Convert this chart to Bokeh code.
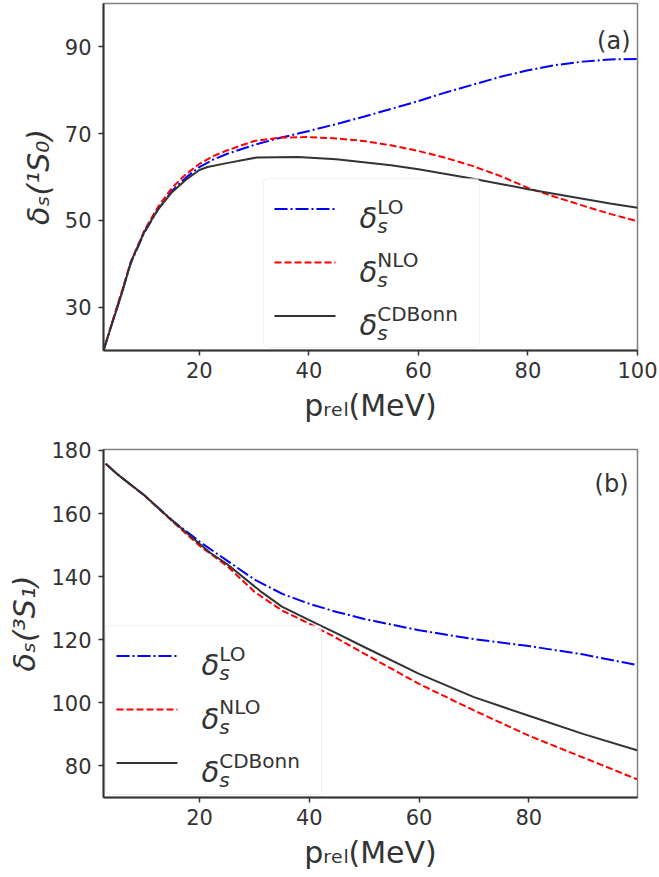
import math
from bokeh.plotting import figure
from bokeh.models import Range1d, Label, BoxAnnotation, Arrow, FixedTicker
from bokeh.layouts import column
from bokeh.embed import file_html
from bokeh.resources import INLINE

# ---------------- data: panel (a) 1S0 ----------------
p_a = [2.5, 4, 5, 6, 7.5, 10, 12.5, 15, 17.5, 20, 22.5, 25, 30, 35, 40, 45, 50, 55, 60, 65,
       70, 75, 80, 85, 90, 95, 100]
lo_a = [20, 26, 30, 34, 40.2, 47.3, 52.6, 56.8, 59.8, 62.3, 64, 65.3, 67.4, 69.1, 70.6, 72.2,
        73.9, 75.7, 77.5, 79.5, 81.3, 83.1, 84.6, 85.8, 86.6, 87.1, 87.2]
nlo_a = [20, 26.2, 30.3, 34.3, 40.5, 47.8, 53.2, 57.5, 60.6, 63, 64.8, 66.1, 68.3, 69.1, 69.2,
         68.9, 68.3, 67.3, 66.0, 64.4, 62.5, 60.2, 57.5, 55.4, 53.4, 51.5, 49.8]
p_a_cdb = [2.5, 4, 5, 6, 7.5, 10, 12.5, 15, 17.5, 20, 21.5, 25, 30.5, 38, 45, 50, 55, 60, 65,
           70, 75, 80, 85, 90, 95, 100]
cdb_a = [20, 26, 29.8, 33.8, 40.4, 47.5, 52.6, 56.5, 59.3, 61.6, 62.3, 63.2, 64.5, 64.6, 64.1,
         63.4, 62.7, 61.8, 60.7, 59.6, 58.4, 57.2, 56.1, 55, 53.9, 52.9]
xticks_a = [20, 40, 60, 80, 100]
yticks_a = [30, 50, 70, 90]

# ---------------- data: panel (b) 3S1 ----------------
p_b = [2.9, 5, 10, 15, 20, 25, 30, 35, 40, 45, 50, 60, 70, 80, 90, 99.7]
lo_b = [175.8, 172.5, 165.7, 157.9, 151.1, 145.1, 139.1, 134.6, 131.4, 128.8, 126.6, 123.0,
        120.2, 118.0, 115.3, 112.0]
nlo_b = [175.8, 172.5, 165.6, 157.6, 149.8, 143.4, 135.2, 129.3, 125.1, 120.5, 115.6, 106.0,
         97.6, 89.6, 82.6, 75.8]
p_b_cdb = [2.9, 5, 10, 15, 20, 22, 25, 31, 35, 40, 45, 50, 60, 70, 80, 90, 99.7]
cdb_b = [175.8, 172.5, 165.7, 157.8, 150.4, 147.5, 144.0, 135.5, 130.5, 126.2, 122.0, 117.7,
         109.2, 101.8, 95.9, 90.1, 85.0]
xticks_b = [20, 40, 60, 80]
yticks_b = [80, 100, 120, 140, 160, 180]

series_names = ["LO", "NLO", "CDBonn"]
xlabel = "pᵣₑₗ(MeV)"
ylabel_a = "δₛ(¹S₀)"
ylabel_b = "δₛ(³S₁)"

# ---------------- style ----------------
TXT = "#333333"
FONT = "DejaVu Sans"
BLUE, RED, DARK = "#0000ff", "#ff0000", "#333333"
DASH_LO, DASH_NLO = "13 3 2 3", "7 3"
W = 659
BL, BR = 103, 22
FW = W - BL - BR

ADV = {"δ": .612, "s": .521, "(": .390, ")": .390, "S": .635, "p": .635, "r": .411, "e": .615,
       "l": .278, "M": .863, "V": .684, "L": .557, "O": .787, "N": .748, "C": .698, "D": .770,
       "B": .686, "o": .612, "n": .634, "a": .613, "b": .635}


def tw(s, size):
    return sum(ADV.get(c, .636) for c in s) * size


def lab(p, x, y, text, size, italic=False, align="left"):
    p.add_layout(Label(x=x, y=y, x_units="screen", y_units="screen", text=text,
                       text_font=FONT, text_font_size=f"{size}px",
                       text_font_style="italic" if italic else "normal",
                       text_color=TXT, text_align=align, text_baseline="alphabetic"))


def make_fig(height, top, bottom, xr, yr, xt, yt, xl, yl):
    p = figure(width=W, height=height, x_range=Range1d(*xr), y_range=Range1d(*yr),
               output_backend="svg", toolbar_location=None,
               min_border_left=BL, min_border_right=BR,
               min_border_top=top, min_border_bottom=bottom)
    p.xgrid.visible = False
    p.ygrid.visible = False
    p.outline_line_color = "#808080"
    p.outline_line_width = 1.5
    p.background_fill_color = "white"
    p.xaxis.ticker = FixedTicker(ticks=xt)
    p.yaxis.ticker = FixedTicker(ticks=yt)
    for ax in (p.xaxis, p.yaxis):
        ax.axis_line_color = TXT
        ax.axis_line_width = 2
        ax.major_tick_line_color = TXT
        ax.major_tick_line_width = 1.5
        ax.major_tick_out = 5
        ax.major_tick_in = 0
        ax.minor_tick_out = 0
        ax.minor_tick_in = 0
        ax.major_label_text_font = FONT
        ax.major_label_text_font_size = "21px"
        ax.major_label_text_color = TXT
        ax.axis_label_text_font = FONT
        ax.axis_label_text_color = TXT
        ax.axis_label_text_font_size = "30px"
    p.xaxis.major_label_standoff = 6
    p.yaxis.major_label_standoff = 7
    p.xaxis.axis_label = xl
    p.yaxis.axis_label = yl
    p.xaxis.axis_label_standoff = 7
    p.yaxis.axis_label_standoff = 6
    p.xaxis.axis_label_text_font_style = "normal"
    p.yaxis.axis_label_text_font_style = "italic"
    return p


def add_curves(p, xs_lo, lo, nlo, xs_c, cdb):
    p.line(xs_lo, lo, line_color=BLUE, line_width=2, line_dash=DASH_LO)
    p.line(xs_lo, nlo, line_color=RED, line_width=2, line_dash=DASH_NLO)
    p.line(xs_c, cdb, line_color=DARK, line_width=2)


def add_legend(p, left, bottom):
    bw, bh = 216, 169
    top = bottom + bh
    p.add_layout(BoxAnnotation(left=left, right=left + bw, bottom=bottom, top=top,
                               left_units="screen", right_units="screen",
                               bottom_units="screen", top_units="screen",
                               fill_color="white", fill_alpha=0.8,
                               line_color="#cccccc", line_width=1, border_radius=4))
    styles = [(BLUE, DASH_LO), (RED, DASH_NLO), (DARK, "solid")]
    offs = [30.5, 84, 137.5]
    F, Fs = 29, 20
    for name, (c, d), o in zip(series_names, styles, offs):
        yr = top - o
        p.add_layout(Arrow(end=None, x_start=left + 11, y_start=yr, x_end=left + 72, y_end=yr,
                           start_units="screen", end_units="screen",
                           line_color=c, line_width=2, line_dash=d))
        xb = left + 96
        yb = yr - 9.4
        lab(p, xb, yb, "δ", F, True)
        xs = xb + tw("δ", F)
        lab(p, xs, yb + 11.7, name, Fs)
        lab(p, xs, yb - 8, "s", Fs, True)


# ---------------- panel (a) ----------------
FH_A = 347
pa = make_fig(3 + FH_A + 76, 3, 76, (2.5, 100), (20, 100), xticks_a, yticks_a,
              xlabel, ylabel_a)
add_curves(pa, p_a, lo_a, nlo_a, p_a_cdb, cdb_a)
add_legend(pa, 160, 3)
lab(pa, FW - 7, FH_A - 37, "(a)", 24, align="right")

# ---------------- panel (b) ----------------
FH_B = 348
pb = make_fig(23 + FH_B + 77, 23, 77, (2.5, 99.8), (70, 180.3), xticks_b, yticks_b,
              xlabel, ylabel_b)
add_curves(pb, p_b, lo_b, nlo_b, p_b_cdb, cdb_b)
add_legend(pb, 2, 3)
lab(pb, FW - 9, FH_B - 34, "(b)", 24, align="right")

layout = column(pa, pb, spacing=0)
open("out.html", "w").write(file_html(layout, INLINE))
